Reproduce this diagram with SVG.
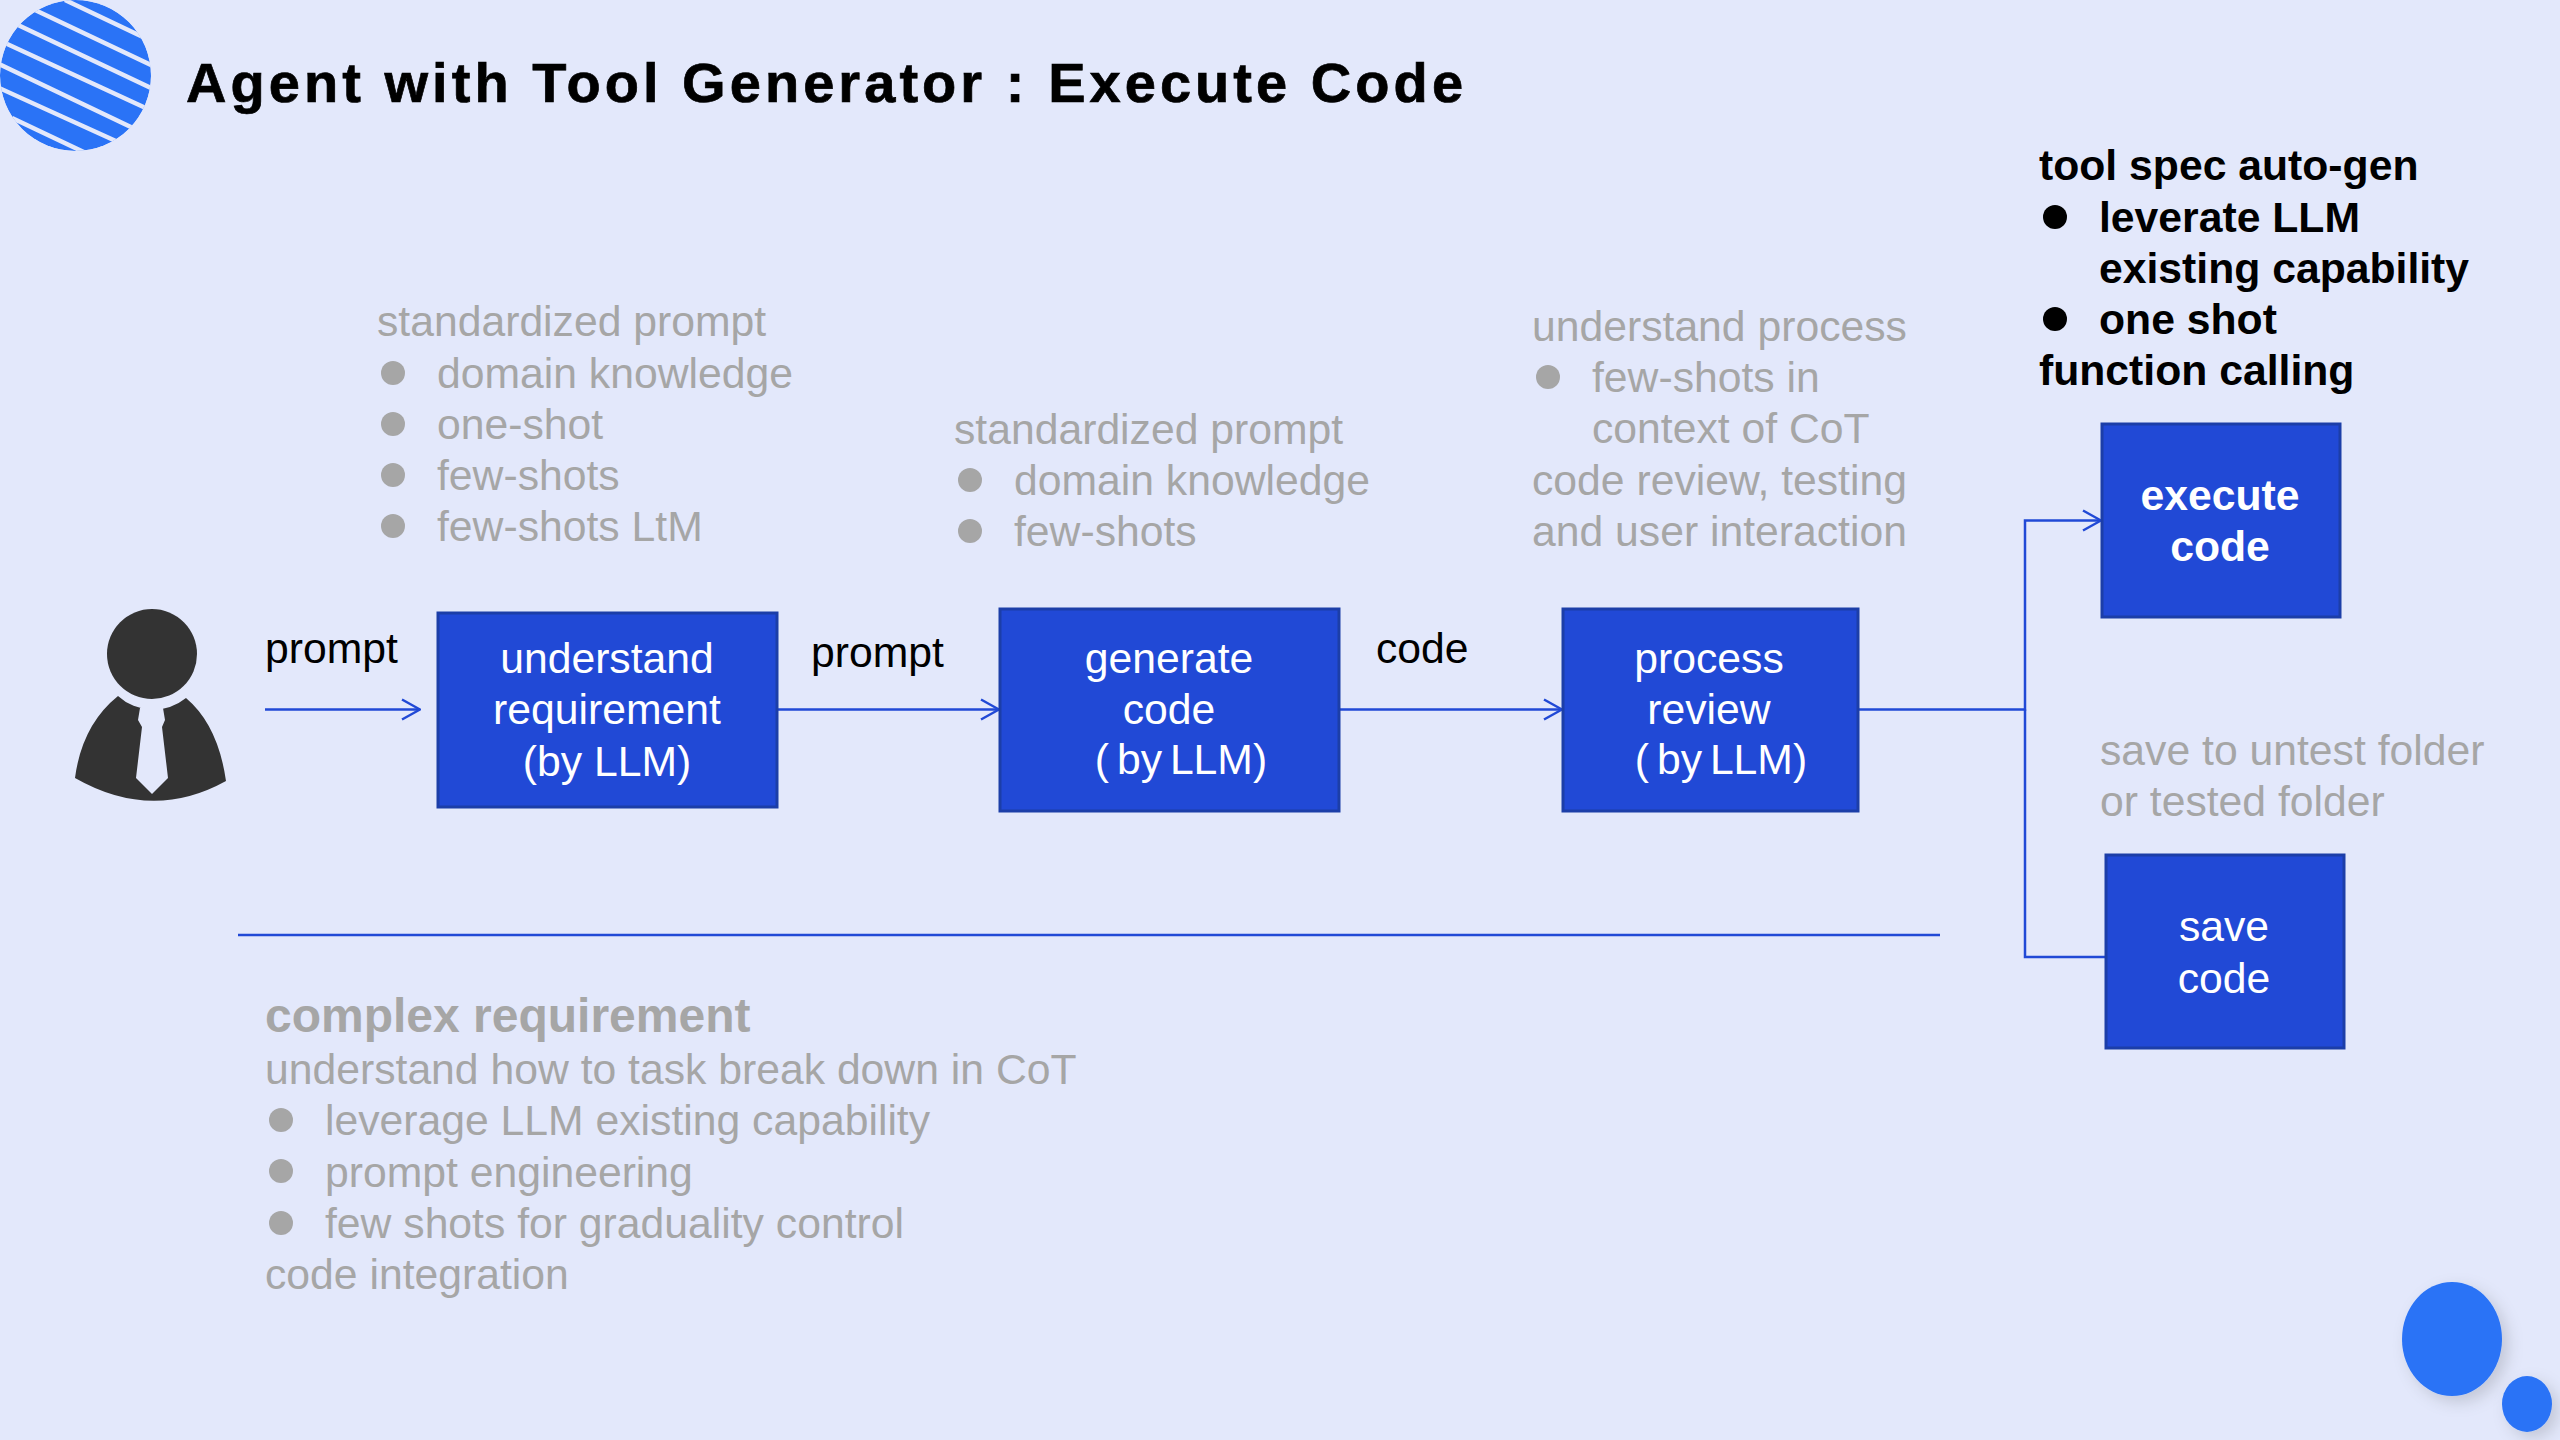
<svg xmlns="http://www.w3.org/2000/svg" width="2560" height="1440" viewBox="0 0 2560 1440">
<style>
text{font-family:"Liberation Sans",Arial,sans-serif}
.g{font-size:42.700px;fill:#a6a6a6}
.k{font-size:42.700px;fill:#000}
.kb{font-size:42.700px;fill:#000;font-weight:700}
.w{font-size:42.700px;fill:#fff;text-anchor:middle}
.box{fill:#2149d6;stroke:#1c3ea8;stroke-width:3}
.ln{fill:none;stroke:#2149d6;stroke-width:2.500}
.dg{fill:#a6a6a6}
</style>
<defs>
<marker id="arr" viewBox="0 0 20 24" markerWidth="20" markerHeight="24" refX="19" refY="12" markerUnits="userSpaceOnUse" orient="auto"><path d="M1 2L19 12L1 22" fill="none" stroke="#2149d6" stroke-width="2.500"/></marker>
<filter id="sh" x="-30%" y="-30%" width="170%" height="170%"><feDropShadow dx="6" dy="6" stdDeviation="8" flood-color="#000" flood-opacity="0.15"/></filter>
<clipPath id="logo"><circle cx="75.500" cy="75.500" r="75.500"/></clipPath>
</defs>
<rect width="2560" height="1440" fill="#e3e8fb"/>
<g id="logo-mark" clip-path="url(#logo)">
<circle cx="75.500" cy="75.500" r="75.500" fill="#2a73f6"/>
<g stroke="#e3e8fb" stroke-width="4.500">
<path d="M65 0L145 38M35 10L155 67M18 25L155 90M5 43L150 110M-3 63L135 129M-3 87L118 142M12 118L90 155"/>
</g>
</g>
<text x="186" y="102" font-size="56" font-weight="700" fill="#000" stroke="#000" stroke-width="0.700" letter-spacing="4.050">Agent with Tool Generator : Execute Code</text>
<g id="connectors">
<path class="ln" d="M265 709.500H420" marker-end="url(#arr)"/>
<path class="ln" d="M777 709.500H999" marker-end="url(#arr)"/>
<path class="ln" d="M1339 709.500H1562" marker-end="url(#arr)"/>
<path class="ln" d="M1858 709.500H2025V520.500H2101" marker-end="url(#arr)"/>
<path class="ln" d="M2025 709.500V957H2106"/>
<path class="ln" d="M238 935H1940"/>
</g>
<g id="user">
<circle cx="152" cy="654" r="45" fill="#333"/>
<path d="M118 696A52 52 0 0 0 186 698Q218 725 226 781Q152 822 75 778Q82 725 118 696Z" fill="#333"/>
<path d="M140 708L163 708L165 720L162 727L168 778L152 794L136 778L142 727L138 720Z" fill="#e3e8fb"/>
</g>
<g id="understand-requirement">
<rect class="box" x="438" y="613" width="339" height="194"/>
<text class="w" x="607" y="673">understand</text>
<text class="w" x="607" y="724">requirement</text>
<text class="w" x="607" y="776">(by LLM)</text>
</g>
<g id="generate-code">
<rect class="box" x="1000" y="609" width="339" height="202"/>
<text class="w" x="1169" y="673">generate</text>
<text class="w" x="1169" y="724">code</text>
<text class="w" x="1181" y="774" word-spacing="-4">( by LLM)</text>
</g>
<g id="process-review">
<rect class="box" x="1563" y="609" width="295" height="202"/>
<text class="w" x="1709" y="673">process</text>
<text class="w" x="1709" y="724">review</text>
<text class="w" x="1721" y="774" word-spacing="-4">( by LLM)</text>
</g>
<g id="execute-code">
<rect class="box" x="2102" y="424" width="238" height="193"/>
<text class="w" x="2220" y="510" font-weight="700">execute</text>
<text class="w" x="2220" y="561" font-weight="700">code</text>
</g>
<g id="save-code">
<rect class="box" x="2106" y="855" width="238" height="193"/>
<text class="w" x="2224" y="941">save</text>
<text class="w" x="2224" y="993">code</text>
</g>
<g id="labels">
<text class="k" x="265" y="663">prompt</text>
<text class="k" x="811" y="667">prompt</text>
<text class="k" x="1376" y="663">code</text>
<g id="note-1">
<text class="g" x="377" y="336">standardized prompt</text>
<circle class="dg" cx="393" cy="373" r="12"/><text class="g" x="437" y="388">domain knowledge</text>
<circle class="dg" cx="393" cy="424" r="12"/><text class="g" x="437" y="439">one-shot</text>
<circle class="dg" cx="393" cy="475" r="12"/><text class="g" x="437" y="490">few-shots</text>
<circle class="dg" cx="393" cy="526" r="12"/><text class="g" x="437" y="541">few-shots LtM</text>
</g>
<g id="note-2">
<text class="g" x="954" y="444">standardized prompt</text>
<circle class="dg" cx="970" cy="480" r="12"/><text class="g" x="1014" y="495">domain knowledge</text>
<circle class="dg" cx="970" cy="531" r="12"/><text class="g" x="1014" y="546">few-shots</text>
</g>
<g id="note-3">
<text class="g" x="1532" y="341">understand process</text>
<circle class="dg" cx="1548" cy="377" r="12"/><text class="g" x="1592" y="392">few-shots in</text>
<text class="g" x="1592" y="443">context of CoT</text>
<text class="g" x="1532" y="495">code review, testing</text>
<text class="g" x="1532" y="546">and user interaction</text>
</g>
<g id="note-4">
<text class="kb" x="2039" y="180">tool spec auto-gen</text>
<circle cx="2055" cy="217" r="12" fill="#000"/><text class="kb" x="2099" y="232">leverate LLM</text>
<text class="kb" x="2099" y="283">existing capability</text>
<circle cx="2055" cy="319" r="12" fill="#000"/><text class="kb" x="2099" y="334">one shot</text>
<text class="kb" x="2039" y="385">function calling</text>
</g>
<g id="note-5">
<text class="g" x="2100" y="765">save to untest folder</text>
<text class="g" x="2100" y="816">or tested folder</text>
</g>
<g id="note-6">
<text x="265" y="1032" font-size="48" font-weight="700" fill="#a6a6a6">complex requirement</text>
<text class="g" x="265" y="1084">understand how to task break down in CoT</text>
<circle class="dg" cx="281" cy="1120" r="12"/><text class="g" x="325" y="1135">leverage LLM existing capability</text>
<circle class="dg" cx="281" cy="1171" r="12"/><text class="g" x="325" y="1187">prompt engineering</text>
<circle class="dg" cx="281" cy="1223" r="12"/><text class="g" x="325" y="1238">few shots for graduality control</text>
<text class="g" x="265" y="1289">code integration</text>
</g>
</g>
<g id="decor">
<ellipse cx="2452" cy="1339" rx="50" ry="57" fill="#2a73f6" filter="url(#sh)"/>
<ellipse cx="2527" cy="1404" rx="25" ry="28" fill="#2a73f6" filter="url(#sh)"/>
</g>
</svg>
